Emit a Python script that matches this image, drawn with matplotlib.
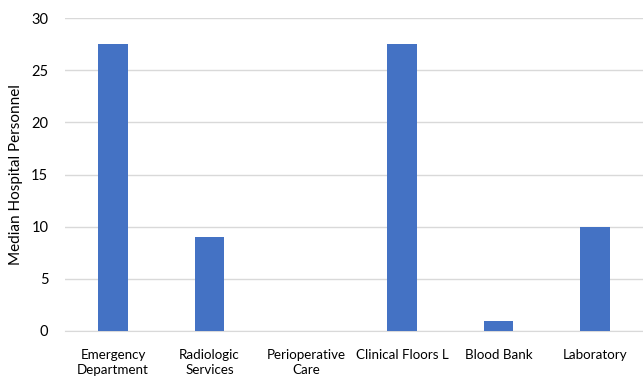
import matplotlib.pyplot as plt

categories = ["Emergency\nDepartment", "Radiologic\nServices", "Perioperative\nCare",
              "Clinical Floors L", "Blood Bank", "Laboratory"]
median_personnel = [27.5, 9, 0, 27.5, 1, 10]

plt.rcParams["font.family"] = ["Lato", "DejaVu Sans"]

fig = plt.figure(figsize=(6.43, 3.78), dpi=100)
ax = fig.add_axes([65 / 643, 1 - 331 / 378, 578 / 643, 313 / 378])

x = range(len(categories))
ax.bar(x, median_personnel, width=0.31, color="#4472c4", zorder=3)

ax.set_xlim(-0.5, len(categories) - 0.5)
ax.set_ylim(0, 30)
ax.set_yticks(range(0, 31, 5))
ax.set_xticks(list(x))
ax.set_xticklabels(categories, fontsize=9.6, color="#000000", linespacing=1.25)
ax.tick_params(axis="y", labelsize=10.5, length=0, pad=12)
ax.tick_params(axis="x", length=0, pad=13)

ax.grid(axis="y", color="#d9d9d9", linewidth=1, zorder=0)
for side in ["top", "right", "left"]:
    ax.spines[side].set_visible(False)
ax.spines["bottom"].set_color("#d9d9d9")

ax.set_ylabel("Median Hospital Personnel", fontsize=11, labelpad=6)

fig.savefig("out.png", dpi=100)
